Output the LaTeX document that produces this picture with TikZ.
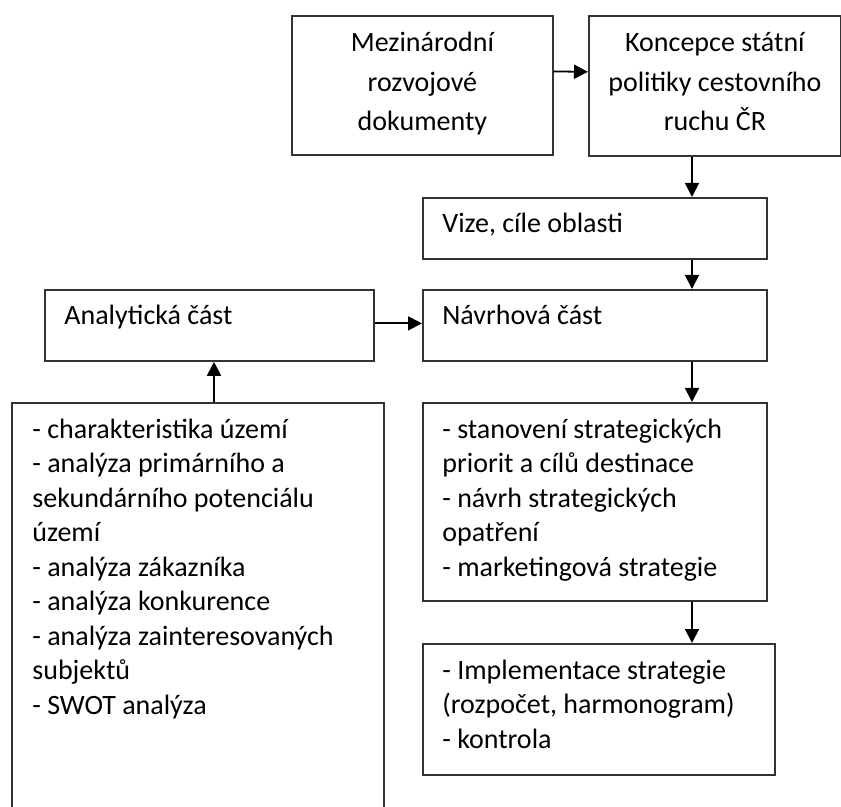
\documentclass[tikz,border=0pt]{standalone}
\usepackage{fontspec}
\setmainfont{Carlito}
\usetikzlibrary{arrows.meta,calc}

\tikzset{
  blk/.style={draw=black!80, line width=0.9pt, inner sep=0pt, anchor=north west},
  txt/.style={inner sep=0pt, anchor=base west, align=left,
    font=\fontsize{14pt}{17.25pt}\selectfont},
  ctxt/.style={inner sep=0pt, anchor=base, align=center,
    font=\fontsize{14pt}{19.75pt}\selectfont},
  arr/.style={line width=0.9pt, -{Triangle[length=7pt,width=7pt]}}
}

\begin{document}
\begin{tikzpicture}[x=0.5pt,y=-0.5pt]
    \useasboundingbox (0,0) rectangle (841,807);
    \clip (0,0) rectangle (841,807);
    \coordinate (colL) at (214,0);
    \coordinate (colR) at (692,0);
    % boxes
    \node[blk,minimum width=130.5pt,minimum height=69.5pt] (mez) at (291,15) {};
    \node[blk,minimum width=126pt,minimum height=70pt] (konc) at (588,15) {};
    \node[blk,minimum width=172pt,minimum height=30.5pt] (vize) at (422,197) {};
    \node[blk,minimum width=164.5pt,minimum height=35.5pt] (anal) at (44,289) {};
    \node[blk,minimum width=172pt,minimum height=35.5pt] (navrh) at (422,289) {};
    \node[blk,minimum width=186pt,minimum height=210pt] (seznamA) at (11,402) {};
    \node[blk,minimum width=172pt,minimum height=99pt] (seznamN) at (422,402) {};
    \node[blk,minimum width=176pt,minimum height=65.5pt] (impl) at (422,643) {};
    % texts (base = last line)
    \node[ctxt] (tmez) at ($(mez.north)+(0,116)$) {Mezinárodní\\rozvojové\\dokumenty};
    \node[ctxt] (tkonc) at ($(konc.north)+(0,116)$) {Koncepce státní\\politiky cestovního\\ruchu ČR};
    \node[txt] (tvize) at ($(vize.north west)+(20,36)$) {Vize, cíle oblasti};
    \node[txt] (tanal) at ($(anal.north west)+(20,36)$) {Analytická část};
    \node[txt] (tnavrh) at ($(navrh.north west)+(20,36)$) {Návrhová část};
    \node[txt] (tseznamA) at ($(seznamA.north west)+(21,312)$) {- charakteristika území\\- analýza primárního a\\sekundárního potenciálu\\území\\- analýza zákazníka\\- analýza konkurence\\- analýza zainteresovaných\\subjektů\\- SWOT analýza};
    \node[txt] (tseznamN) at ($(seznamN.north west)+(20,174)$) {- stanovení strategických\\priorit a cílů destinace\\- návrh strategických\\opatření\\- marketingová strategie};
    \node[txt] (timpl) at ($(impl.north west)+(20,105)$) {- Implementace strategie\\(rozpočet, harmonogram)\\- kontrola};
    % arrows
    \draw[arr] ([yshift=7pt]mez.east) -- ([yshift=7pt]konc.west);
    \draw[arr] (konc.south -| colR) -- (vize.north -| colR);
    \draw[arr] (vize.south -| colR) -- (navrh.north -| colR);
    \draw[arr] ([yshift=1pt]anal.east) -- ([yshift=1pt]navrh.west);
    \draw[arr] (seznamA.north -| colL) -- (anal.south -| colL);
    \draw[arr] (navrh.south -| colR) -- (seznamN.north -| colR);
    \draw[arr] (seznamN.south -| colR) -- (impl.north -| colR);
\end{tikzpicture}
\end{document}
